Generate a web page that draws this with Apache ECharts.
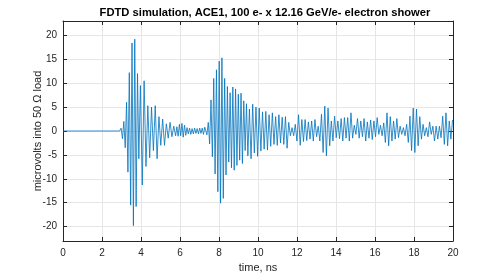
<!DOCTYPE html>
<html>
<head>
<meta charset="utf-8">
<script src="https://cdn.jsdelivr.net/npm/echarts@6/dist/echarts.min.js"></script>
<style>html,body{margin:0;padding:0;background:#fff}#c{width:485px;height:278px}</style>
</head>
<body>
<div id="c"></div>
<script>
// ---- data (time in ns, signal in microvolts) ----
const titleText = 'FDTD simulation, ACE1, 100 e- x 12.16 GeV/e- electron shower';
const xName = 'time, ns';
const yName = 'microvolts into 50 \u03A9 load';
const xTicks = [0, 2, 4, 6, 8, 10, 12, 14, 16, 18, 20];
const yTicks = [-20, -15, -10, -5, 0, 5, 10, 15, 20];

// flat baseline before the shower arrives
const leadTimes = [0, 2.9];
const leadValues = [0, 0];

// each segment: start time, sample step (ns), successive extrema values
const segAStart = 2.98, segAStep = 0.07;
const segA = [0.6, -1.6, 2.0, -3.5, 6.0, -8.6, 12.2, -15.5, 18.4, -19.8, 19.2, -15.8, 12.0, -5.8];

const segBStart = 3.97, segBStep = 0.095;
const segB = [9.5, -11.3, 10.5, -7.4, 5.3, -5.6, 5.0, -4.1, 5.3, -5.8, 3.0, -3.0, 2.5, -3.0, 1.5, -1.5, 1.8, -1.2, 1.0, -1.0];

const segCStart = 5.84, segCStep = 0.065;
const segC = [0.9, -1.1, 1.4, -1.0, 1.6, -1.3, 1.2, -0.9, 0.7, -0.6, 0.6, -0.7, 0.5, -0.6, 0.6, -0.5, 0.5, -0.6, 0.6, -0.5, 0.6, -0.7, 0.8];

const segDStart = 7.38, segDStep = 0.07;
const segD = [-0.8, 1.8, -2.7, 6.5, -5.4, 11.0, -9.0, 12.8, -12.7, 14.6, -15.1, 15.3, -14.1, 11.0, -9.2, 9.3, -6.5, 8.0, -7.7, 9.2, -8.2, 8.8, -7.2, 7.7, -6.1, 7.9, -6.8, 6.3, -4.1, 5.7, -5.2];

const segEStart = 9.56, segEStep = 0.084;
const segE = [4.6, -5.8, 5.6, -4.6, 5.0, -5.3, 4.8, -4.2, 4.0, -3.8,
  4.1, -4.0, 3.4, -3.2, 3.8, -2.8, 3.0, -3.0, 3.4, -2.5,
  2.9, -2.8, 3.0, -3.6, 1.8, -1.0, 0.7, -1.0, 1.4, -2.1,
  3.4, -3.0, 2.4, -2.2, 2.4, -2.0, 1.9, -1.7, 2.1, -2.1, 2.4];

const segFStart = 13.004, segFStep = 0.084;
const segF = [-1.2, 1.0, -2.1, 3.5, -4.5, 5.2, -5.2, 4.8, -3.1, 2.1,
  -2.1, 3.1, -1.4, 2.1, -1.6, 2.6, -2.1, 2.8, -1.5, 2.8,
  -2.1, 3.8, -1.5, 1.2, -0.7, 2.6, -1.5, 2.1, -1.2, 2.6,
  -2.1, 1.9, -1.5, 2.3, -1.8, 2.1, -1.2, 2.8, -0.7, 1.2, -1.0];

const segGStart = 16.448, segGStep = 0.084;
const segG = [1.7, -2.4, 3.8, -3.1, 3.0, -2.1, 2.1, -1.7, 2.6, -1.4,
  1.0, -0.7, 0.7, -1.0, 1.4, -2.4, 3.1, -4.1, 4.8, -4.5,
  4.6, -3.1, 3.0, -1.7, 1.4, -1.0, 0.7, -1.2, 1.9, -0.7,
  1.0, -2.1, 1.0, -1.7, 1.0, -1.4, 3.1, -2.8, 3.8, -3.1,
  2.1, -1.7, 2.3];

// ---- build series data ----
const points = [];
leadTimes.forEach((t, i) => points.push([t, leadValues[i]]));
[[segAStart, segAStep, segA], [segBStart, segBStep, segB], [segCStart, segCStep, segC],
 [segDStart, segDStep, segD], [segEStart, segEStep, segE], [segFStart, segFStep, segF],
 [segGStart, segGStep, segG]].forEach(([s, d, vals]) => {
  vals.forEach((v, i) => points.push([+(s + i * d).toFixed(4), v]));
});

const ink = '#262626';
const font = 'Liberation Sans';
const chart = echarts.init(document.getElementById('c'), null, {renderer: 'canvas'});

const yLabelFmt = v => (yTicks.indexOf(Math.round(v * 1000) / 1000) >= 0 ? String(v) : '');

chart.setOption({
  animation: false,
  backgroundColor: '#ffffff',
  title: {
    text: titleText,
    left: 265, top: 7, padding: 0,
    textAlign: 'center',
    textStyle: {fontFamily: font, fontSize: 11.2, fontWeight: 'bold', color: '#000'}
  },
  grid: {left: 63, top: 21, width: 390, height: 221, containLabel: false},
  xAxis: [{
    type: 'value', min: xTicks[0], max: xTicks[xTicks.length - 1], interval: 2,
    position: 'bottom',
    name: xName, nameLocation: 'middle', nameGap: 21, nameMoveOverlap: false,
    nameTextStyle: {fontFamily: font, fontSize: 11, color: ink},
    axisLine: {show: true, onZero: false, lineStyle: {color: ink, width: 1}},
    axisTick: {show: true, inside: true, length: 4, lineStyle: {color: ink, width: 1}},
    axisLabel: {fontFamily: font, fontSize: 10, color: ink, margin: 7},
    splitLine: {show: true, lineStyle: {color: '#e6e6e6', width: 1}}
  }, {
    type: 'value', min: xTicks[0], max: xTicks[xTicks.length - 1], interval: 2,
    position: 'top',
    axisLine: {show: true, onZero: false, lineStyle: {color: ink, width: 1}},
    axisTick: {show: true, inside: true, length: 4, lineStyle: {color: ink, width: 1}},
    axisLabel: {show: false},
    splitLine: {show: false}
  }],
  yAxis: [{
    type: 'value', min: -23, max: 23, splitNumber: 9,
    position: 'left',
    name: yName, nameLocation: 'middle', nameGap: 20, nameMoveOverlap: false,
    nameTextStyle: {fontFamily: font, fontSize: 11, color: ink},
    axisLine: {show: true, onZero: false, lineStyle: {color: ink, width: 1}},
    axisTick: {show: true, inside: true, length: 4, lineStyle: {color: ink, width: 1}},
    axisLabel: {fontFamily: font, fontSize: 10, color: ink, margin: 6, formatter: yLabelFmt},
    splitLine: {show: true, lineStyle: {color: '#e6e6e6', width: 1}}
  }, {
    type: 'value', min: -23, max: 23, splitNumber: 9,
    position: 'right',
    axisLine: {show: true, onZero: false, lineStyle: {color: ink, width: 1}},
    axisTick: {show: true, inside: true, length: 4, lineStyle: {color: ink, width: 1}},
    axisLabel: {show: false},
    splitLine: {show: false}
  }],
  series: [{
    type: 'line',
    xAxisIndex: 0, yAxisIndex: 0,
    data: points,
    showSymbol: false,
    symbol: 'none',
    clip: true,
    lineStyle: {color: '#0072BD', width: 0.8},
    emphasis: {disabled: true}
  }]
});
</script>
</body>
</html>
